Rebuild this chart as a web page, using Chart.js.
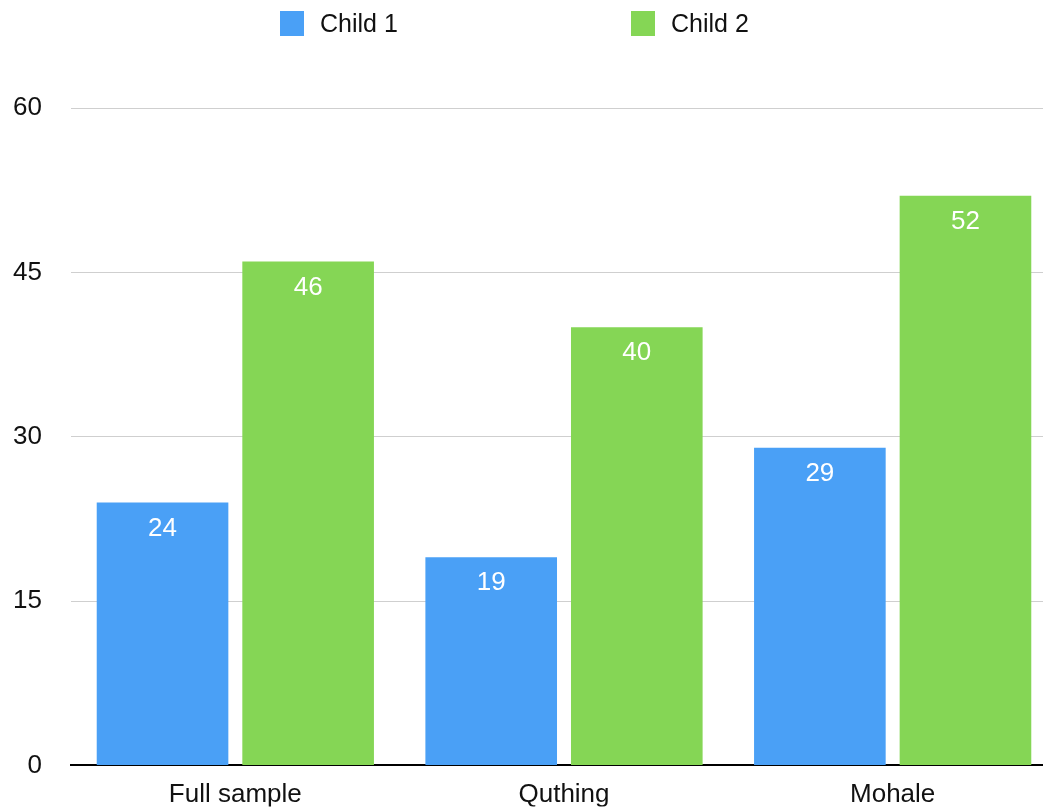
<!DOCTYPE html>
<html>
<head>
<meta charset="utf-8">
<script src="https://cdn.jsdelivr.net/npm/chart.js@4/dist/chart.umd.min.js"></script>
<style>
  html, body { margin: 0; padding: 0; background: #ffffff; overflow: hidden; }
  #wrap { position: relative; width: 1057px; height: 810px; }
</style>
</head>
<body>
<div id="wrap"><canvas id="chart"></canvas></div>
<script>
// Categories and series
const categories = ['Full sample', 'Quthing', 'Mohale'];
const child1Values = [24, 19, 29];
const child2Values = [46, 40, 52];
const seriesNames = ['Child 1', 'Child 2'];
const yTicks = [0, 15, 30, 45, 60];

const BLUE = '#4aa0f6';
const GREEN = '#85d655';
const FONT = '"Liberation Sans", Arial, Helvetica, sans-serif';
const FONT_SIZE = 26;
const TEXT = '#111111';

// Legend drawn across the top of the canvas
const topLegend = {
  id: 'topLegend',
  afterDraw(chart) {
    const ctx = chart.ctx;
    const items = [
      { x: 280, label: seriesNames[0], color: BLUE },
      { x: 631, label: seriesNames[1], color: GREEN }
    ];
    ctx.save();
    ctx.font = '25px ' + FONT;
    ctx.textBaseline = 'middle';
    ctx.textAlign = 'left';
    items.forEach(it => {
      ctx.fillStyle = it.color;
      ctx.fillRect(it.x, 11, 24, 25);
      ctx.fillStyle = TEXT;
      ctx.fillText(it.label, it.x + 40, 25);
    });
    ctx.restore();
  }
};

// White value labels inside the top of each bar
const barValues = {
  id: 'barValues',
  afterDatasetsDraw(chart) {
    const ctx = chart.ctx;
    ctx.save();
    ctx.font = FONT_SIZE + 'px ' + FONT;
    ctx.fillStyle = '#ffffff';
    ctx.textAlign = 'center';
    ctx.textBaseline = 'middle';
    chart.data.datasets.forEach((ds, di) => {
      const meta = chart.getDatasetMeta(di);
      meta.data.forEach((bar, i) => {
        ctx.fillText(String(ds.data[i]), bar.x, bar.y + 26);
      });
    });
    ctx.restore();
  }
};

new Chart(document.getElementById('chart'), {
  type: 'bar',
  data: {
    labels: categories,
    datasets: [
      { label: seriesNames[0], data: child1Values, backgroundColor: BLUE },
      { label: seriesNames[1], data: child2Values, backgroundColor: GREEN }
    ]
  },
  options: {
    responsive: true,
    maintainAspectRatio: false,
    animation: false,
    events: [],
    layout: { padding: { top: 108, left: 0, right: 0, bottom: 0 } },
    datasets: {
      bar: { categoryPercentage: 0.886, barPercentage: 0.904 }
    },
    plugins: {
      legend: { display: false },
      tooltip: { enabled: false }
    },
    scales: {
      x: {
        afterFit(scale) { scale.height = 41; },
        grid: { display: false, drawTicks: false },
        border: { display: true, color: '#000000', width: 2 },
        ticks: {
          color: TEXT,
          font: { family: FONT, size: FONT_SIZE },
          padding: 14
        }
      },
      y: {
        min: 0,
        max: 60,
        afterBuildTicks(scale) {
          scale.ticks = yTicks.map(v => ({ value: v }));
        },
        afterFit(scale) { scale.width = 71; },
        grid: { color: '#cfcfcf', lineWidth: 1, drawTicks: false },
        border: { display: false },
        ticks: {
          color: TEXT,
          font: { family: FONT, size: FONT_SIZE },
          padding: 29
        }
      }
    }
  },
  plugins: [barValues, topLegend]
});
</script>
</body>
</html>
